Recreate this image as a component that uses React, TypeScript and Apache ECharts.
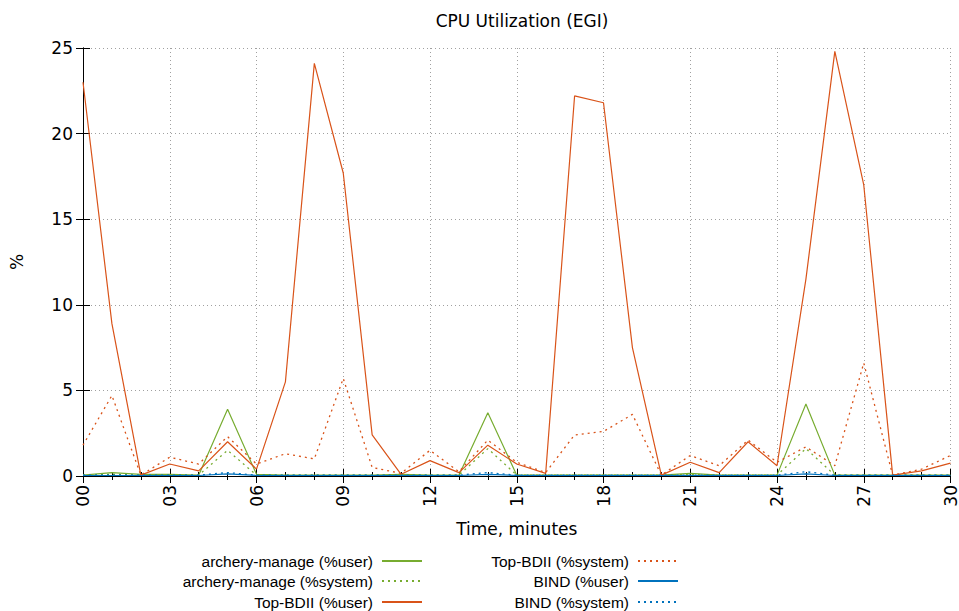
import React, { useEffect, useRef } from "react";
import * as echarts from "echarts";

const minutes = Array.from({ length: 31 }, (_, i) => i);
const archeryUser = [0.05, 0.2, 0.1, 0.1, 0.05, 3.9, 0.1, 0.05, 0.05, 0.05, 0.05, 0.1, 0.05, 0.05, 3.7, 0.05, 0.05, 0.05, 0.05, 0.05, 0.05, 0.15, 0.05, 0.05, 0.05, 4.2, 0.05, 0.05, 0.05, 0.05, 0.05];
const archerySystem = [0.05, 0.1, 0.05, 0.05, 0.05, 1.5, 0.05, 0.05, 0.05, 0.05, 0.05, 0.05, 0.05, 0.05, 1.6, 0.05, 0.05, 0.05, 0.05, 0.05, 0.05, 0.1, 0.05, 0.05, 0.05, 1.6, 0.05, 0.05, 0.05, 0.05, 0.05];
const bdiiUser = [23.0, 8.9, 0.05, 0.7, 0.3, 2.0, 0.4, 5.5, 24.1, 17.7, 2.4, 0.1, 0.9, 0.2, 1.8, 0.7, 0.15, 22.2, 21.8, 7.5, 0.05, 0.8, 0.2, 2.0, 0.6, 11.5, 24.8, 17.0, 0.05, 0.3, 0.75];
const bdiiSystem = [1.8, 4.7, 0.05, 1.1, 0.7, 2.3, 0.7, 1.3, 1.0, 5.7, 0.5, 0.15, 1.5, 0.25, 2.1, 0.8, 0.2, 2.4, 2.6, 3.6, 0.05, 1.2, 0.6, 2.1, 0.8, 1.7, 0.6, 6.6, 0.05, 0.4, 1.2];
const bindUser = [0.03, 0.03, 0.03, 0.03, 0.03, 0.12, 0.03, 0.03, 0.03, 0.03, 0.03, 0.03, 0.03, 0.03, 0.1, 0.03, 0.03, 0.03, 0.03, 0.03, 0.03, 0.03, 0.03, 0.03, 0.03, 0.12, 0.03, 0.03, 0.03, 0.03, 0.03];
const bindSystem = [0.05, 0.05, 0.05, 0.05, 0.05, 0.2, 0.05, 0.05, 0.05, 0.05, 0.05, 0.05, 0.05, 0.05, 0.2, 0.05, 0.05, 0.05, 0.05, 0.05, 0.05, 0.05, 0.05, 0.05, 0.05, 0.25, 0.05, 0.05, 0.05, 0.05, 0.05];

const seriesNames = [
  "archery-manage (%user)",
  "archery-manage (%system)",
  "Top-BDII (%user)",
  "Top-BDII (%system)",
  "BIND (%user)",
  "BIND (%system)",
];
const seriesValues = [archeryUser, archerySystem, bdiiUser, bdiiSystem, bindUser, bindSystem];
const seriesColors = ["#77ac30", "#77ac30", "#d95319", "#d95319", "#0072bd", "#0072bd"];
const seriesDotted = [false, true, false, true, false, true];

const FONT = "DejaVu Sans";
const LEGEND_FONT = "'Liberation Sans', sans-serif";

export default function App() {
  const ref = useRef<HTMLDivElement>(null);
  useEffect(() => {
    if (!ref.current) return;
    const chart = echarts.init(ref.current, undefined, { renderer: "svg" });
    const legendPos = [
      { right: 536, top: 553 },
      { right: 536, top: 573 },
      { right: 536, top: 594 },
      { right: 280, top: 553 },
      { right: 280, top: 573 },
      { right: 280, top: 594 },
    ];
    chart.setOption({
      animation: false,
      backgroundColor: "#ffffff",
      title: {
        text: "CPU Utilization (EGI)",
        left: 517,
        textAlign: "center",
        top: 7,
        textStyle: { fontFamily: FONT, fontSize: 17, fontWeight: "normal", color: "#000" },
      },
      legend: seriesNames.map((n, i) => ({
        data: [n],
        right: legendPos[i].right,
        top: legendPos[i].top,
        align: "right",
        itemWidth: 40,
        itemHeight: 14,
        itemGap: 0,
        padding: 0,
        selectedMode: false,
        itemStyle: { opacity: 0 },
        textStyle: { fontFamily: LEGEND_FONT, fontSize: 15.5, color: "#000", padding: [0, 4, 0, 0] },
      })),
      grid: { left: 80, right: 6, top: 48, bottom: 135, containLabel: false },
      xAxis: [
        {
          type: "value",
          min: 0,
          max: 30,
          interval: 3,
          name: "Time, minutes",
          nameLocation: "middle",
          nameGap: 44,
          nameTextStyle: { fontFamily: FONT, fontSize: 17, color: "#000" },
          axisLine: { lineStyle: { color: "#000", width: 1 } },
          axisTick: { inside: true, length: 7, lineStyle: { color: "#000" } },
          minorTick: { show: true, splitNumber: 3, length: 4, lineStyle: { color: "#000" } },
          axisLabel: {
            rotate: 90,
            fontFamily: FONT,
            fontSize: 17,
            color: "#000",
            margin: 9,
            formatter: (v: number) => String(v).padStart(2, "0"),
          },
          splitLine: { show: true, lineStyle: { color: "#a0a0a0", type: [1, 3], width: 1 } },
        },
        {
          type: "value",
          position: "top",
          min: 0,
          max: 30,
          interval: 3,
          axisLine: { show: true, lineStyle: { color: "#000", width: 1 } },
          axisTick: { show: true, inside: true, length: 7, lineStyle: { color: "#000" } },
          minorTick: { show: true, splitNumber: 3, length: 4, lineStyle: { color: "#000" } },
          axisLabel: { show: false },
          splitLine: { show: false },
        },
      ],
      yAxis: [
        {
          type: "value",
          min: 0,
          max: 25,
          interval: 5,
          name: "%",
          nameLocation: "middle",
          nameGap: 58,
          nameRotate: 90,
          nameTextStyle: { fontFamily: FONT, fontSize: 17, color: "#000" },
          axisLine: { show: true, lineStyle: { color: "#000", width: 1 } },
          axisTick: { show: true, inside: true, length: 7, lineStyle: { color: "#000" } },
          axisLabel: { fontFamily: FONT, fontSize: 17, color: "#000", margin: 10 },
          splitLine: { show: true, lineStyle: { color: "#a0a0a0", type: [1, 3], width: 1 } },
        },
        {
          type: "value",
          position: "right",
          min: 0,
          max: 25,
          interval: 5,
          axisLine: { show: true, lineStyle: { color: "#000", width: 1 } },
          axisTick: { show: true, inside: true, length: 7, lineStyle: { color: "#000" } },
          axisLabel: { show: false },
          splitLine: { show: false },
        },
      ],
      series: seriesNames.map((n, i) => ({
        name: n,
        type: "line",
        xAxisIndex: 0,
        yAxisIndex: 0,
        symbol: "none",
        showSymbol: false,
        color: seriesColors[i],
        lineStyle: {
          color: seriesColors[i],
          width: seriesDotted[i] ? 1.3 : 1.2,
          type: seriesDotted[i] ? [2, 4] : "solid",
        },
        data: minutes.map((m) => [m, seriesValues[i][m]]),
      })),
    });
    return () => chart.dispose();
  }, []);
  return <div ref={ref} style={{ width: 959, height: 611, position: "absolute", left: 0, top: 0 }} />;
}
